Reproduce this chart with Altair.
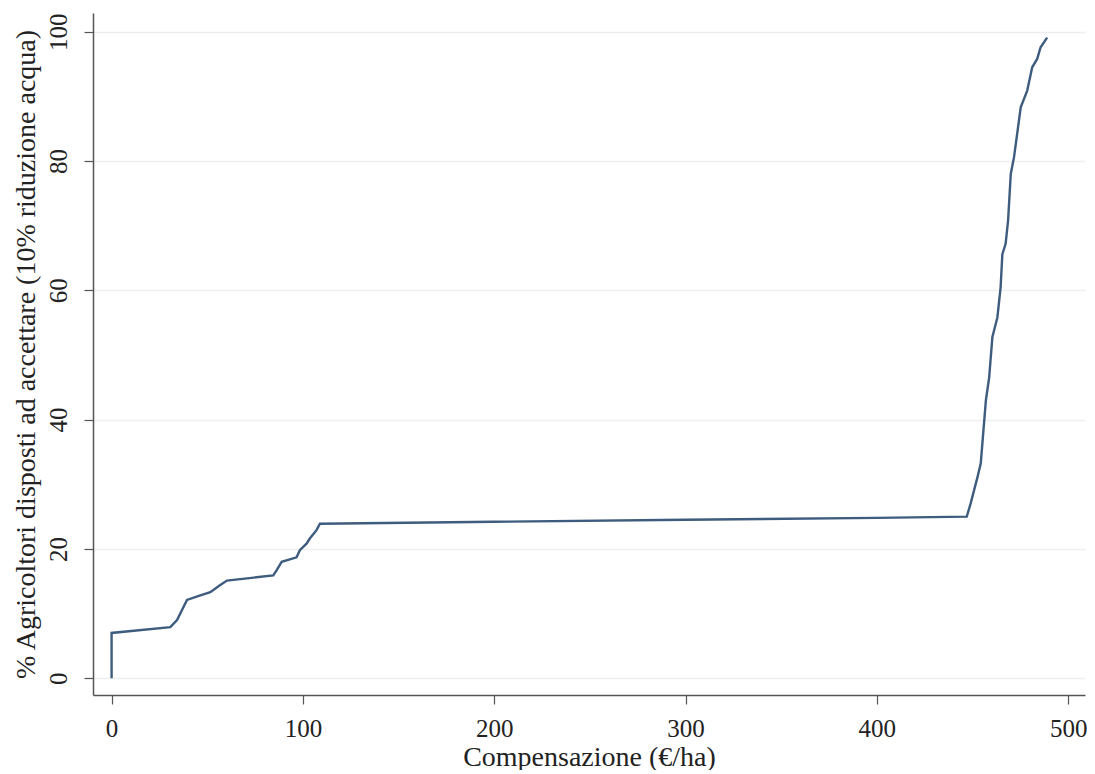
import altair as alt
import pandas as pd

# Compensation (€/ha) and cumulative % of farmers willing to accept
comp = [0, 0, 30.7, 34.2, 39.4, 46.4, 51.6, 56.8, 60.3, 84.5, 86.3, 88.9,
        96.7, 98.4, 101.9, 103.6, 107.1, 108.9, 200, 300, 400, 447, 449,
        452.6, 454.3, 457, 458.7, 460.4, 463, 464.7, 465.6, 467.3, 468.6,
        470, 471.7, 475.2, 478.6, 481.2, 483.8, 485.6, 489]
pct = [0, 7.0, 7.9, 9.0, 12.1, 12.8, 13.3, 14.4, 15.1, 15.9, 16.7, 18.0,
       18.7, 19.8, 20.8, 21.6, 22.9, 23.9, 24.2, 24.5, 24.8, 25.0, 27.0,
       31.1, 33.2, 43.0, 46.5, 52.8, 55.8, 60.5, 65.6, 67.2, 70.8,
       78.0, 80.6, 88.3, 90.9, 94.5, 95.8, 97.6, 99.1]
x_ticks = [0, 100, 200, 300, 400, 500]
y_ticks = [0, 20, 40, 60, 80, 100]

df = pd.DataFrame({"comp": comp, "pct": pct, "ord": list(range(len(comp)))})

FONT = "Liberation Serif"
AX = "#555555"

chart = alt.Chart(df).mark_line(color="#3e5c7e", strokeWidth=2.4).encode(
    x=alt.X("comp:Q",
            scale=alt.Scale(domain=[-9.72, 508.8], nice=False, zero=False),
            axis=alt.Axis(values=x_ticks, title="Compensazione (€/ha)",
                          grid=False, tickSize=9, labelPadding=12,
                          labelBaseline="top", titlePadding=2)),
    y=alt.Y("pct:Q",
            scale=alt.Scale(domain=[-2.6, 102.9], nice=False, zero=False),
            axis=alt.Axis(values=y_ticks,
                          title="% Agricoltori disposti ad accettare (10% riduzione acqua)",
                          grid=True, tickSize=9, labelAngle=270,
                          labelAlign="center", labelBaseline="alphabetic",
                          labelPadding=18, titlePadding=6)),
    order="ord:Q",
).properties(
    width=992, height=682,
    autosize=alt.AutoSizeParams(type="none"),
    padding={"left": 85, "top": 5, "right": 2, "bottom": 75},
).configure_view(stroke=None).configure_axis(
    labelFont=FONT, titleFont=FONT, labelFontSize=25, titleFontSize=28,
    labelColor="#222222", titleColor="#222222", titleFontWeight="normal",
    domainColor=AX, domainWidth=1.5, tickColor=AX, tickWidth=1.2,
    gridColor="#eeeeee", gridWidth=1.5,
)

chart.save("out.html", embed_options={"renderer": "svg", "actions": False})
